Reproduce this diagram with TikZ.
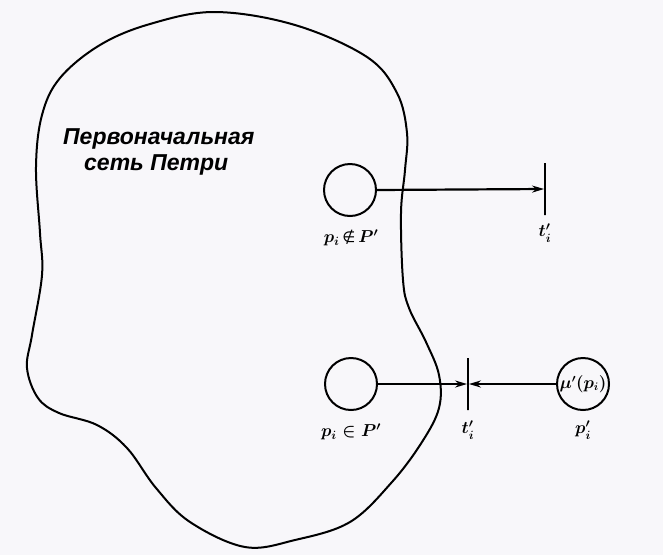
\documentclass[tikz,border=0pt]{standalone}
\usepackage{fontspec}
\usepackage{amsmath}
\usetikzlibrary{arrows.meta}
\newfontfamily\rusfont{Liberation Sans}
\newfontfamily\symfont{DejaVu Sans}
\definecolor{bgcol}{RGB}{248,247,250}
\begin{document}
\begin{tikzpicture}[x=1pt,y=-1pt,
  blob/.style={line width=2pt},
  place/.style={circle,draw,line width=2pt,minimum size=52pt,inner sep=0pt},
  bar/.style={draw,line width=1.8pt,minimum width=0pt,inner sep=0pt,minimum height=52pt},
  arr/.style={line width=2.2pt,-{Stealth[length=12pt,width=7pt]}},
  lab/.style={inner sep=0pt,font=\fontsize{17}{19}\selectfont\boldmath},
  rustxt/.style={inner sep=0pt,align=left,font=\rusfont\itshape\bfseries\fontsize{23}{26}\selectfont}
  ]
\fill[bgcol] (0,0) rectangle (663,555);
\useasboundingbox (0,0) rectangle (663,555);
% blob
\draw[blob] plot[smooth cycle,tension=0.6] coordinates {
 (215,12) (295,25) (367,57) (397,93) (407,133) (405,170) (401,213) (403,280)
 (409,308) (426,342) (439,375) (439,408) (422,442) (392,482) (350,522) (295,540)
 (245,547) (190,522) (156,488) (127,448) (97,425) (59,413) (38,398) (27,368)
 (32,335) (42,275) (40,233) (36,167) (42,115) (60,78) (100,45) (150,24)};
\node[rustxt,anchor=west] (title) at (63,152) {Первоначальная\\\hspace*{21pt}сеть Петри};
% top part
\node[place] (p1) at (350,190) {};
\node[bar] (t1) at (545,189) {};
\node[lab] (lp1) at (351,238) {$p_i$\,{\symfont\fontsize{15}{17}\selectfont ∉}\,$P'$};
\node[lab] (lt1) at (545,233) {$t'_i$};
\draw[arr] (p1.east) -- (t1.west);
% bottom part
\node[place] (p2) at (351,384) {};
\node[bar] (t2) at (468,384) {};
\node[place,font=\fontsize{16}{18}\selectfont\boldmath] (pm) at (583,384) {$\mu'(p_i)$};
\node[lab] (lp2) at (351,432) {$p_i \in P'$};
\node[lab] (lt2) at (468,430) {$t'_i$};
\node[lab] (lpm) at (583,430) {$p'_i$};
\draw[arr] (p2.east) -- (t2.west);
\draw[arr] (pm.west) -- (t2.east);
\end{tikzpicture}
\end{document}
